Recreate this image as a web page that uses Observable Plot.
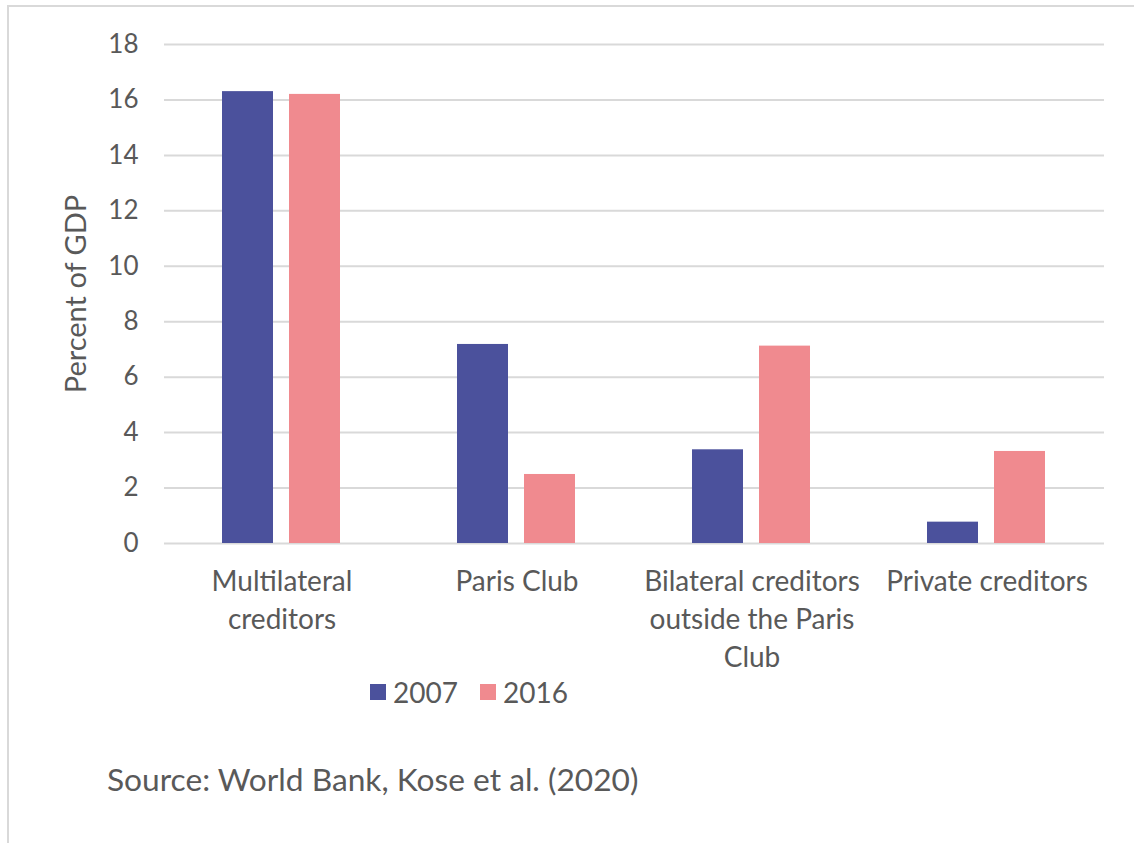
<!DOCTYPE html>
<html>
<head>
<meta charset="utf-8">
<script src="https://cdn.jsdelivr.net/npm/d3@7"></script>
<script src="https://cdn.jsdelivr.net/npm/@observablehq/plot@0.6"></script>
<style>
  html, body { margin: 0; padding: 0; background: #fff; }
  #wrap { position: relative; width: 1134px; height: 843px; overflow: hidden; font-family: Lato, "Open Sans", sans-serif; color: #595959; }
  #frame { position: absolute; left: 7px; top: 5px; width: 1200px; height: 900px; border-top: 2px solid #d9d9d9; border-left: 2px solid #d9d9d9; }
  #chart { position: absolute; left: 0; top: 0; }
  #ylabel { position: absolute; left: 74px; top: 294px; transform: translate(-50%, -50%) rotate(-90deg); white-space: nowrap; font-size: 29px; line-height: 1; }
  #legend { position: absolute; left: 370px; top: 675px; display: flex; align-items: center; font-size: 28px; }
  #legend .item { display: flex; align-items: center; margin-right: 22px; }
  #legend .sw { width: 16px; height: 16px; margin-right: 7px; }
  #source { position: absolute; left: 107px; top: 760px; font-size: 31.7px; }
</style>
</head>
<body>
<div id="wrap">
  <div id="frame"></div>
  <div id="chart"></div>
  <div id="ylabel">Percent of GDP</div>
  <div id="legend"></div>
  <div id="source">Source: World Bank, Kose et al. (2020)</div>
</div>
<script>
const categories = ["Multilateral creditors", "Paris Club", "Bilateral creditors outside the Paris Club", "Private creditors"];
const categoryLabels = ["Multilateral\ncreditors", "Paris Club", "Bilateral creditors\noutside the Paris\nClub", "Private creditors"];
const years = ["2007", "2016"];
const values2007 = [16.3, 7.18, 3.38, 0.77];
const values2016 = [16.2, 2.49, 7.12, 3.32];
const colors = ["#4b519c", "#f08a8f"];
const yTicks = [0, 2, 4, 6, 8, 10, 12, 14, 16, 18];

const data = [];
categories.forEach((c, i) => {
  data.push({category: c, year: years[0], value: values2007[i]});
  data.push({category: c, year: years[1], value: values2016[i]});
});
const labelOf = new Map(categories.map((c, i) => [c, categoryLabels[i]]));

const chart = Plot.plot({
  width: 1134,
  height: 700,
  marginLeft: 163,
  marginRight: 29,
  marginTop: 44,
  marginBottom: 157,
  style: {fontFamily: "Lato, 'Open Sans', sans-serif", color: "#595959", background: "transparent"},
  fx: {domain: categories, padding: 0, label: null},
  x: {domain: years, paddingInner: 0.235, paddingOuter: 0.853, axis: null},
  y: {domain: [0, 18], label: null},
  color: {domain: years, range: colors},
  marks: [
    Plot.gridY(yTicks, {stroke: "#d9d9d9", strokeOpacity: 1, strokeWidth: 2}),
    Plot.axisY(yTicks, {tickSize: 0, tickPadding: 26, fontSize: 26, fill: "#595959", label: null}),
    Plot.axisFx({anchor: "bottom", tickSize: 0, tickPadding: 20, fontSize: 28, lineHeight: 1.36, fill: "#595959", tickFormat: d => labelOf.get(d), label: null}),
    Plot.barY(data, {fx: "category", x: "year", y: "value", fill: "year"})
  ]
});
document.getElementById("chart").appendChild(chart);

const legend = document.getElementById("legend");
years.forEach((y, i) => {
  const item = document.createElement("div");
  item.className = "item";
  const sw = document.createElement("div");
  sw.className = "sw";
  sw.style.background = colors[i];
  const t = document.createElement("span");
  t.textContent = y;
  item.appendChild(sw);
  item.appendChild(t);
  legend.appendChild(item);
});
</script>
</body>
</html>
